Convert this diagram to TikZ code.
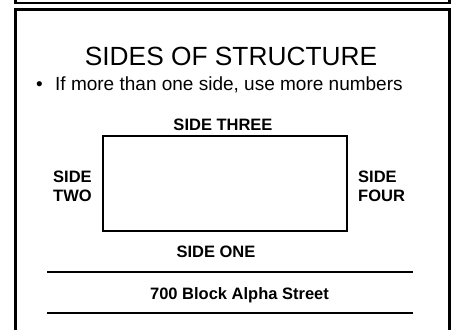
\documentclass[tikz,border=0pt]{standalone}
\usepackage{fontspec}
\setmainfont{Liberation Sans}
\begin{document}
\begin{tikzpicture}[x=1pt,y=-1pt,
  frame/.style={draw=black,line width=2.6pt},
  title/.style={font=\fontsize{26.3}{30}\selectfont,anchor=base,inner sep=0pt},
  bodytext/.style={font=\fontsize{19}{22}\selectfont,anchor=base west,inner sep=0pt},
  label/.style={font=\bfseries\fontsize{16.5}{19}\selectfont,inner sep=0pt},
  structure/.style={draw=black,line width=1.3pt,minimum width=244pt,minimum height=95pt,inner sep=0pt},
  rule/.style={draw=black,line width=1.5pt}]
\useasboundingbox (0,0) rectangle (454,329);
\begin{scope}
\clip (0,0) rectangle (454,329);
\draw[frame] (15.3,-10) rectangle (449.5,3);
\draw[frame] (15.3,9.5) rectangle (449.5,345);
\end{scope}
\node[title] (t) at (231,65) {SIDES OF STRUCTURE};
\node[bodytext] (b) at (36,90) {•};
\node[bodytext] (bt) at (55,90) {If more than one side, use more numbers};
\node[label,anchor=base] (s3) at (223,130) {SIDE THREE};
\node[structure] (rect) at (225,183.5) {};
\node[label,anchor=base west,align=left] (s2) at (53,201) {SIDE\\TWO};
\node[label,anchor=base west,align=left] (s4) at (358,201) {SIDE\\FOUR};
\node[label,anchor=base] (s1) at (216,257) {SIDE ONE};
\coordinate (l1a) at (47,272);
\coordinate (l1b) at (413,272);
\coordinate (l2a) at (47,313);
\coordinate (l2b) at (413,313);
\draw[rule] (l1a) -- (l1b);
\draw[rule] (l2a) -- (l2b);
\node[label,anchor=base] (st) at (239.5,299) {700 Block Alpha Street};
\end{tikzpicture}
\end{document}
